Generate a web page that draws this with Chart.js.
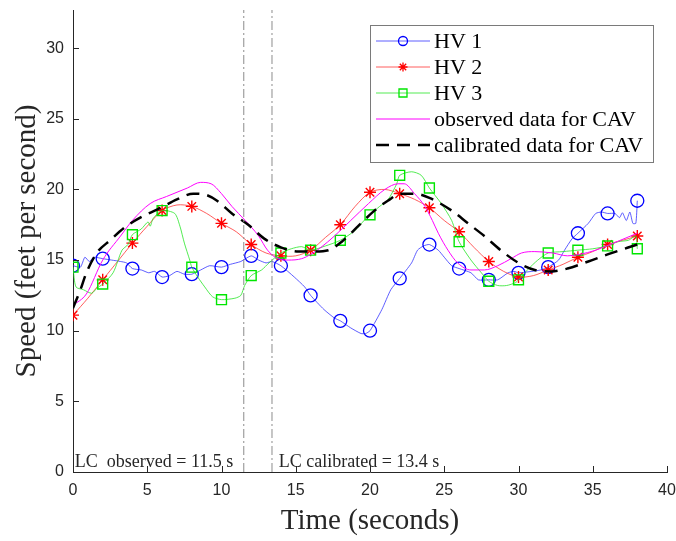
<!DOCTYPE html>
<html>
<head>
<meta charset="utf-8">
<script src="https://cdn.jsdelivr.net/npm/chart.js@4.4.1/dist/chart.umd.min.js"></script>
<style>
    html, body { margin: 0; padding: 0; background: #fff; }
    #wrap { width: 676px; height: 541px; }
</style>
</head>
<body>
<div id="wrap"><canvas id="speed-chart" width="676" height="541"></canvas></div>
<script>
// /---------------- Data ----------------/
const hv1Time  = [0, 0.5, 0.8, 1.1, 1.4, 2, 2.6, 3.2, 3.6, 4, 4.6, 5.1, 5.5, 6, 6.5, 7, 7.5, 8, 8.6, 9.2, 10, 10.6, 11.3, 12, 12.5, 13, 13.4, 14, 14.9, 15.6, 16, 16.9, 17.6, 18, 18.7, 19.4, 19.7, 20, 20.8, 21.4, 22, 22.8, 23.2, 23.6, 24, 24.6, 25, 25.5, 26, 26.8, 27.3, 28, 28.6, 29.3, 29.7, 30, 30.9, 31.5, 32, 32.7, 33.1, 33.6, 34, 34.7, 35.2, 35.6, 36, 36.5, 36.8, 37, 37.26, 37.5, 37.7, 37.9, 38];
const hv1Speed = [14.6, 14.5, 15.2, 14.9, 15.2, 15.1, 15.0, 14.9, 14.8, 14.4, 14.3, 14.1, 14.2, 13.8, 13.9, 14.2, 14.0, 14.0, 14.3, 14.6, 14.5, 14.7, 14.9, 15.3, 15.0, 14.8, 14.9, 14.6, 13.8, 13.1, 12.5, 11.5, 10.9, 10.7, 10.2, 9.8, 9.8, 10.0, 11.5, 12.9, 13.7, 14.8, 15.7, 16.0, 16.1, 15.7, 15.2, 14.6, 14.4, 14.1, 13.6, 13.6, 13.6, 14.1, 14.2, 14.1, 14.2, 14.3, 14.5, 15.0, 15.7, 16.5, 16.9, 17.6, 18.3, 18.4, 18.3, 18.3, 18.0, 18.35, 17.8, 18.4, 17.6, 17.6, 19.2];

const hv2Time  = [0, 1, 2, 3, 4, 5, 6, 7, 8, 9, 10, 11, 12, 13, 14, 15, 16, 17, 18, 19, 20, 21, 22, 23, 24, 25, 26, 27, 28, 29, 30, 31, 32, 33, 34, 35, 36, 37, 38];
const hv2Speed = [11.1, 12.3, 13.6, 14.9, 16.2, 17.4, 18.5, 18.9, 18.8, 18.3, 17.6, 17.0, 16.1, 15.5, 15.3, 15.3, 15.7, 16.6, 17.5, 18.8, 19.8, 20.0, 19.7, 19.3, 18.7, 17.8, 17.0, 15.9, 14.9, 14.2, 13.8, 13.9, 14.3, 14.7, 15.2, 15.6, 16.1, 16.4, 16.7];

const hv3Time  = [0, 0.2, 0.7, 1.26, 1.6, 2, 2.7, 3.3, 3.7, 4, 4.6, 5.05, 5.2, 5.4, 6, 6.85, 7.2, 7.5, 7.86, 8, 8.4, 8.87, 9.4, 10, 10.9, 11.3, 11.56, 12, 12.7, 13.2, 14, 14.7, 15.4, 16, 17, 18, 19, 19.6, 20, 20.65, 21.2, 21.8, 22, 22.8, 23.45, 24, 24.8, 25.5, 26, 26.8, 27.5, 28, 28.6, 29.2, 29.8, 30, 30.6, 31.3, 32, 33, 34, 35, 36, 36.7, 37.4, 37.9, 38];
const hv3Speed = [14.5, 13.1, 12.9, 12.65, 13.0, 13.3, 14.1, 15.7, 16.1, 16.8, 17.2, 17.7, 17.4, 17.95, 18.5, 18.3, 17.4, 16.2, 15.0, 14.5, 13.8, 13.1, 12.4, 12.2, 12.3, 12.5, 13.2, 13.9, 14.3, 14.8, 15.5, 15.8, 15.95, 15.7, 16.0, 16.4, 17.1, 17.8, 18.2, 18.8, 19.25, 20.4, 21.0, 21.25, 21.0, 20.1, 19.0, 17.8, 16.3, 15.0, 14.1, 13.5, 13.2, 13.2, 13.4, 13.6, 14.3, 15.0, 15.5, 15.6, 15.7, 15.8, 16.0, 16.3, 16.4, 16.7, 15.8];

const obsTime  = [0, 0.9, 2, 3.2, 4, 5.2, 6.3, 7.7, 8.6, 9.3, 10, 10.7, 11.6, 12.5, 13.1, 13.8, 14.5, 15.4, 16, 16.7, 17.6, 18.7, 19.9, 21, 21.9, 22.3, 23, 23.7, 24.2, 24.6, 25.25, 25.9, 26.8, 27.7, 28.6, 29.5, 30.2, 31.1, 32.3, 33.3, 34.1, 35.2, 36.4, 38];
const obsSpeed = [11.8, 12.6, 15.0, 16.7, 17.8, 19.0, 19.5, 20.1, 20.5, 20.4, 19.7, 18.8, 17.8, 16.7, 15.7, 15.1, 15.0, 15.1, 15.4, 15.9, 16.7, 17.8, 19.0, 20.0, 20.4, 20.4, 19.7, 18.8, 17.8, 16.9, 15.7, 14.8, 14.3, 14.3, 14.6, 15.1, 15.5, 15.6, 15.5, 15.3, 15.4, 15.7, 16.2, 16.9];

const calTime  = [0, 0.5, 0.9, 1.6, 2.5, 3.6, 4.7, 5.9, 7, 8.1, 9, 9.7, 10.7, 11.8, 12.9, 14, 15.2, 16.2, 17.2, 18.1, 19.2, 20.3, 21.2, 22.1, 23, 24, 25.5, 26.6, 27.7, 28.8, 30, 31.1, 32.2, 33.3, 34.7, 36, 38];
const calSpeed = [11.6, 12.9, 14.1, 15.5, 16.4, 17.4, 18.1, 18.7, 19.3, 19.7, 19.6, 19.2, 18.3, 17.5, 16.5, 15.9, 15.6, 15.6, 15.7, 16.3, 17.4, 18.5, 19.2, 19.7, 19.7, 19.4, 18.5, 17.6, 16.7, 15.7, 14.8, 14.3, 14.2, 14.4, 14.9, 15.4, 16.1];

const lcObserved = 11.5;
const lcCalibrated = 13.4;
const xTicks = [0, 5, 10, 15, 20, 25, 30, 35, 40];
const yTicks = [0, 5, 10, 15, 20, 25, 30];
const yTop = 32.7;

// /---------------- Helpers ----------------/
const toPoints = (t, v) => t.map((x, i) => ({ x: x, y: v[i] }));
const markerAt = (r) => (ctx) => (ctx.raw && ctx.raw.x % 2 === 0 ? r : 0);
const serif = "'Liberation Serif', 'Times New Roman', serif";
const sans = "'Liberation Sans', Arial, sans-serif";
const ink = '#262626';

// keep the plot box fixed (MATLAB style), no extra room for edge labels
function fixBox(size, key) {
    return s => {
        s[key] = size;
        s.paddingLeft = 0;
        s.paddingRight = 0;
        s.paddingTop = 0;
        s.paddingBottom = 0;
    };
}

function vline(x) {
    return {
        label: '',
        data: [{ x: x, y: 0 }, { x: x, y: yTop }],
        borderColor: '#8c8c8c',
        borderWidth: 1,
        borderDash: [9, 3, 2, 3],
        pointRadius: 0,
        order: 0,
        legend: false,
    };
}

const datasets = [
    {
        label: 'HV 1',
        data: toPoints(hv1Time, hv1Speed),
        borderColor: 'rgba(40, 40, 255, 0.75)',
        borderWidth: 1,
        tension: 0.2,
        pointStyle: 'circle',
        pointRadius: markerAt(6.5),
        pointBorderColor: '#0000ff',
        pointBackgroundColor: 'rgba(0,0,0,0)',
        pointBorderWidth: 1.3,
        markerColor: '#0000ff',
        order: 5,
        legend: true,
    },
    {
        label: 'HV 2',
        data: toPoints(hv2Time, hv2Speed),
        borderColor: 'rgba(255, 40, 40, 0.75)',
        borderWidth: 1,
        tension: 0.3,
        pointStyle: 'star',
        pointRadius: markerAt(6),
        pointBorderColor: '#ff0000',
        pointBorderWidth: 1.4,
        markerColor: '#ff0000',
        order: 4,
        legend: true,
    },
    {
        label: 'HV 3',
        data: toPoints(hv3Time, hv3Speed),
        borderColor: 'rgba(40, 230, 40, 0.8)',
        borderWidth: 1,
        tension: 0.25,
        pointStyle: 'rect',
        pointRadius: markerAt(7),
        pointBorderColor: '#00e600',
        pointBackgroundColor: 'rgba(0,0,0,0)',
        pointBorderWidth: 1.4,
        markerColor: '#00e600',
        order: 3,
        legend: true,
    },
    {
        label: 'observed data for CAV',
        data: toPoints(obsTime, obsSpeed),
        borderColor: '#ff00ff',
        borderWidth: 1,
        cubicInterpolationMode: 'monotone',
        pointRadius: 0,
        order: 2,
        legend: true,
    },
    {
        label: 'calibrated data for CAV',
        data: toPoints(calTime, calSpeed),
        borderColor: '#000000',
        borderWidth: 2.5,
        borderDash: [13, 8],
        cubicInterpolationMode: 'monotone',
        pointRadius: 0,
        order: 1,
        legend: true,
    },
    vline(lcObserved),
    vline(lcCalibrated),
];

// /---------------- Plugins: inward ticks, notes, legend box ----------------/
function drawMarker(ctx, style, x, y, r, color) {
    ctx.save();
    ctx.strokeStyle = color;
    ctx.lineWidth = 1.3;
    ctx.setLineDash([]);
    ctx.beginPath();
    if (style === 'circle') {
        ctx.arc(x, y, r, 0, Math.PI * 2);
    } else if (style === 'rect') {
        ctx.rect(x - r, y - r, 2 * r, 2 * r);
    } else if (style === 'star') {
        const d = r * Math.SQRT1_2;
        ctx.moveTo(x - r, y); ctx.lineTo(x + r, y);
        ctx.moveTo(x, y - r); ctx.lineTo(x, y + r);
        ctx.moveTo(x - d, y - d); ctx.lineTo(x + d, y + d);
        ctx.moveTo(x - d, y + d); ctx.lineTo(x + d, y - d);
    }
    ctx.stroke();
    ctx.restore();
}

const matlabLook = {
    id: 'matlabLook',
    afterDraw(chart) {
        const ctx = chart.ctx;
        const xs = chart.scales.x;
        const ys = chart.scales.y;
        const area = chart.chartArea;

        // inward tick marks
        ctx.save();
        ctx.strokeStyle = ink;
        ctx.lineWidth = 1;
        ctx.beginPath();
        xTicks.forEach(v => {
            const px = Math.round(xs.getPixelForValue(v)) + 0.5;
            ctx.moveTo(px, area.bottom);
            ctx.lineTo(px, area.bottom - 6);
        });
        yTicks.forEach(v => {
            const py = Math.round(ys.getPixelForValue(v)) + 0.5;
            ctx.moveTo(area.left, py);
            ctx.lineTo(area.left + 6, py);
        });
        ctx.stroke();

        // lane change notes
        ctx.fillStyle = ink;
        ctx.font = '18px ' + serif;
        ctx.textBaseline = 'alphabetic';
        ctx.textAlign = 'left';
        const baseY = ys.getPixelForValue(0.35);
        ctx.fillText('LC  observed = ' + lcObserved + ' s', xs.getPixelForValue(0.12), baseY);
        ctx.fillText('LC calibrated = ' + lcCalibrated + ' s', xs.getPixelForValue(13.85), baseY);
        ctx.restore();

        // legend box
        const box = { x: 370.5, y: 25.5, w: 283, h: 137 };
        ctx.save();
        ctx.fillStyle = '#ffffff';
        ctx.fillRect(box.x, box.y, box.w, box.h);
        ctx.strokeStyle = '#7a7a7a';
        ctx.lineWidth = 1;
        ctx.strokeRect(box.x, box.y, box.w, box.h);
        const rows = chart.data.datasets.filter(d => d.legend);
        rows.forEach((d, i) => {
            const y = 41 + i * 26;
            ctx.save();
            ctx.strokeStyle = d.borderColor;
            ctx.lineWidth = d.borderWidth;
            ctx.setLineDash(d.borderDash || []);
            ctx.beginPath();
            ctx.moveTo(376, y);
            ctx.lineTo(430, y);
            ctx.stroke();
            ctx.restore();
            if (d.markerColor) {
                const r = d.pointStyle === 'rect' ? 4 : 4.5;
                drawMarker(ctx, d.pointStyle, 403, y, r, d.markerColor);
            }
            ctx.fillStyle = '#000000';
            ctx.font = '22px ' + serif;
            ctx.textBaseline = 'middle';
            ctx.fillText(d.label, 434, y + 1);
        });
        ctx.restore();
    }
};

// /---------------- Chart ----------------/
const speedChart = new Chart(document.querySelector('#speed-chart').getContext('2d'), {
    type: 'line',
    data: { datasets: datasets },
    plugins: [matlabLook],
    options: {
        responsive: false,
        animation: false,
        devicePixelRatio: 1,
        layout: {
            autoPadding: false,
            padding: { top: 10, right: 9, left: 0, bottom: 0 }
        },
        plugins: {
            legend: { display: false },
            tooltip: { enabled: false }
        },
        scales: {
            x: {
                type: 'linear',
                min: 0,
                max: 40,
                afterBuildTicks: s => { s.ticks = xTicks.map(v => ({ value: v })); },
                afterFit: fixBox(69, 'height'),
                ticks: {
                    color: ink,
                    padding: 9,
                    maxRotation: 0,
                    font: { family: sans, size: 16 }
                },
                grid: { display: false, drawTicks: false },
                border: { display: true, color: ink, width: 1 },
                title: {
                    display: true,
                    text: 'Time (seconds)',
                    color: ink,
                    font: { family: serif, size: 29 },
                    padding: { top: 0, bottom: 2 }
                }
            },
            y: {
                type: 'linear',
                min: 0,
                max: yTop,
                afterBuildTicks: s => { s.ticks = yTicks.map(v => ({ value: v })); },
                afterFit: fixBox(73, 'width'),
                ticks: {
                    color: ink,
                    padding: 9,
                    font: { family: sans, size: 16 }
                },
                grid: { display: false, drawTicks: false },
                border: { display: true, color: ink, width: 1 },
                title: {
                    display: true,
                    text: 'Speed (feet per second)',
                    color: ink,
                    font: { family: serif, size: 29 },
                    padding: { top: 10, bottom: 0 }
                }
            }
        }
    }
});
</script>
</body>
</html>
